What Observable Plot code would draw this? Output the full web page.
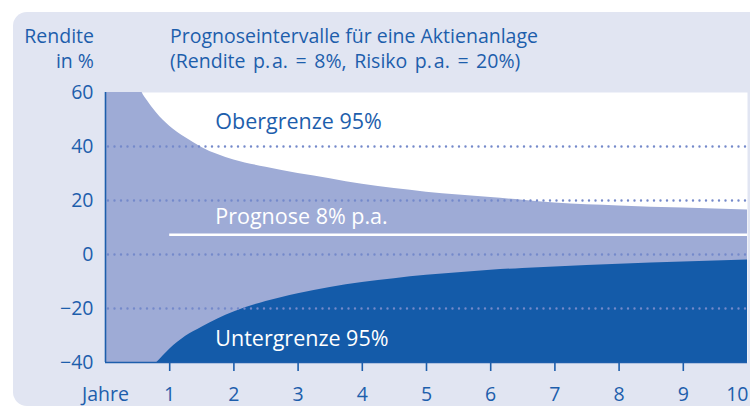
<!DOCTYPE html>
<html>
<head>
<meta charset="utf-8">
<script src="https://cdn.jsdelivr.net/npm/d3@7"></script>
<script src="https://cdn.jsdelivr.net/npm/@observablehq/plot@0.6"></script>
<style>
  html, body { margin: 0; padding: 0; background: #ffffff; overflow: hidden; }
  body { width: 750px; height: 408px; position: relative; font-family: "Open Sans", sans-serif; }
  #panel { position: absolute; left: 13px; top: 12px; width: 760px; height: 394px; background: #e1e5f2; border-radius: 14px; }
  #header { position: absolute; left: 0; top: 0; width: 750px; height: 75px; color: #1d5eac; font-size: 19.5px; line-height: 25px; }
  #ylab { position: absolute; right: 656px; top: 23px; text-align: right; }
  #title { position: absolute; left: 170px; top: 23px; white-space: nowrap; }
  #title .l2 { word-spacing: 2.5px; }
  #chart { position: absolute; left: 0; top: 75px; }
</style>
</head>
<body>
<div id="panel"></div>
<div id="header">
  <div id="ylab">Rendite<br>in %</div>
  <div id="title">Prognoseintervalle für eine Aktienanlage<br><span class="l2">(Rendite p.&#8202;a. = 8%, Risiko p.&#8202;a. = 20%)</span></div>
</div>
<div id="chart"></div>
<script>
// Data (values beyond the frame are clipped, as in the reference)
const years      = [0,   0.45, 0.57,  0.65,  0.8,  1,     1.25,  1.5,   2,     2.5,   3,     3.5,   4,     4.5,  5,    5.5,   6,     6.5,   7,    8,     9,    10];
const upperBound = [68,  68,   60,    57,    52.3, 47.5,  43.2,  39.6,  35.0,  32.3,  30.0,  28.1,  26.0,  24.4, 23.1, 22.0,  21.1,  20.1,  19.1, 18.0,  17.2, 16.5];
const lowerBound = [-50, -48,  -45.5, -43.6, -40,  -35.1, -30.3, -26.9, -21.3, -17.4, -14.5, -12.2, -10.4, -8.95, -7.7, -6.75, -5.85, -5.15, -4.6, -3.65, -2.8, -2.0];
const forecastLevel = 7.3;
const yTicks = [60, 40, 20, 0, -20, -40];
const gridLevels = [40, 20, 0, -20];
const xTickMarks = [1, 2, 3, 4, 5, 6, 7, 8, 9];
const xTickLabels = ["Jahre", "1", "2", "3", "4", "5", "6", "7", "8", "9"];
const lastTickLabel = "10";

const blue = "#1d5eac";
const light = "#9eabd6";
const dark = "#145ba9";
const dotColor = "#7489ca";

const table = years.map((t, i) => ({year: t, upper: upperBound[i], lower: lowerBound[i]}));
const xLabelData = xTickLabels.map((s, i) => ({x: i, label: s}));

const chart = Plot.plot({
  width: 750,
  height: 333,
  marginLeft: 105,
  marginRight: 3,
  marginTop: 17,
  marginBottom: 46,
  x: {type: "linear", domain: [0, 10], axis: null},
  y: {type: "linear", domain: [-40, 60], axis: null},
  style: {background: "transparent", fontFamily: "Open Sans, sans-serif", fontSize: "19.5px", color: blue, overflow: "visible"},
  marks: [
    Plot.frame({fill: "white", stroke: null}),
    Plot.areaY(table, {x: "year", y1: d => -40, y2: "upper", fill: light, curve: "monotone-x", clip: true}),
    Plot.areaY(table, {x: "year", y1: d => -40, y2: "lower", fill: dark, curve: "monotone-x", clip: true}),
    Plot.ruleY(gridLevels, {stroke: dotColor, strokeWidth: 2.4, strokeDasharray: "0,6.5", strokeLinecap: "round", dx: 3}),
    Plot.ruleY([forecastLevel], {x1: 1, x2: 10, stroke: "white", strokeWidth: 2.6}),
    Plot.text(["Obergrenze 95%"], {x: 1.71, y: 49.1, text: d => d, textAnchor: "start", fill: blue, fontSize: 21.5}),
    Plot.text(["Prognose 8% p.a."], {x: 1.71, y: 13.7, text: d => d, textAnchor: "start", fill: "white", fontSize: 21.5}),
    Plot.text(["Untergrenze 95%"], {x: 1.71, y: -31.5, text: d => d, textAnchor: "start", fill: "white", fontSize: 21.5}),
    Plot.axisY({ticks: yTicks, tickSize: 0, tickPadding: 12, fontSize: 19.5, fill: blue, tickFormat: d => d < 0 ? "\u2212" + Math.abs(d) : String(d)}),
    Plot.ruleX([0], {stroke: blue, strokeWidth: 1.6}),
    Plot.ruleY([-40], {stroke: blue, strokeWidth: 1.6}),
    Plot.axisX({ticks: xTickMarks, tickSize: 9, tickFormat: () => "", stroke: blue, strokeWidth: 1.6}),
    Plot.text(xLabelData, {x: "x", y: d => -40, text: "label", dy: 32.5, fill: blue, fontSize: 19.5}),
    Plot.text([lastTickLabel], {x: d => 10, y: d => -40, text: d => d, dy: 32.5, dx: 1, textAnchor: "end", fill: blue, fontSize: 19.5})
  ]
});
document.getElementById("chart").appendChild(chart);
</script>
</body>
</html>
